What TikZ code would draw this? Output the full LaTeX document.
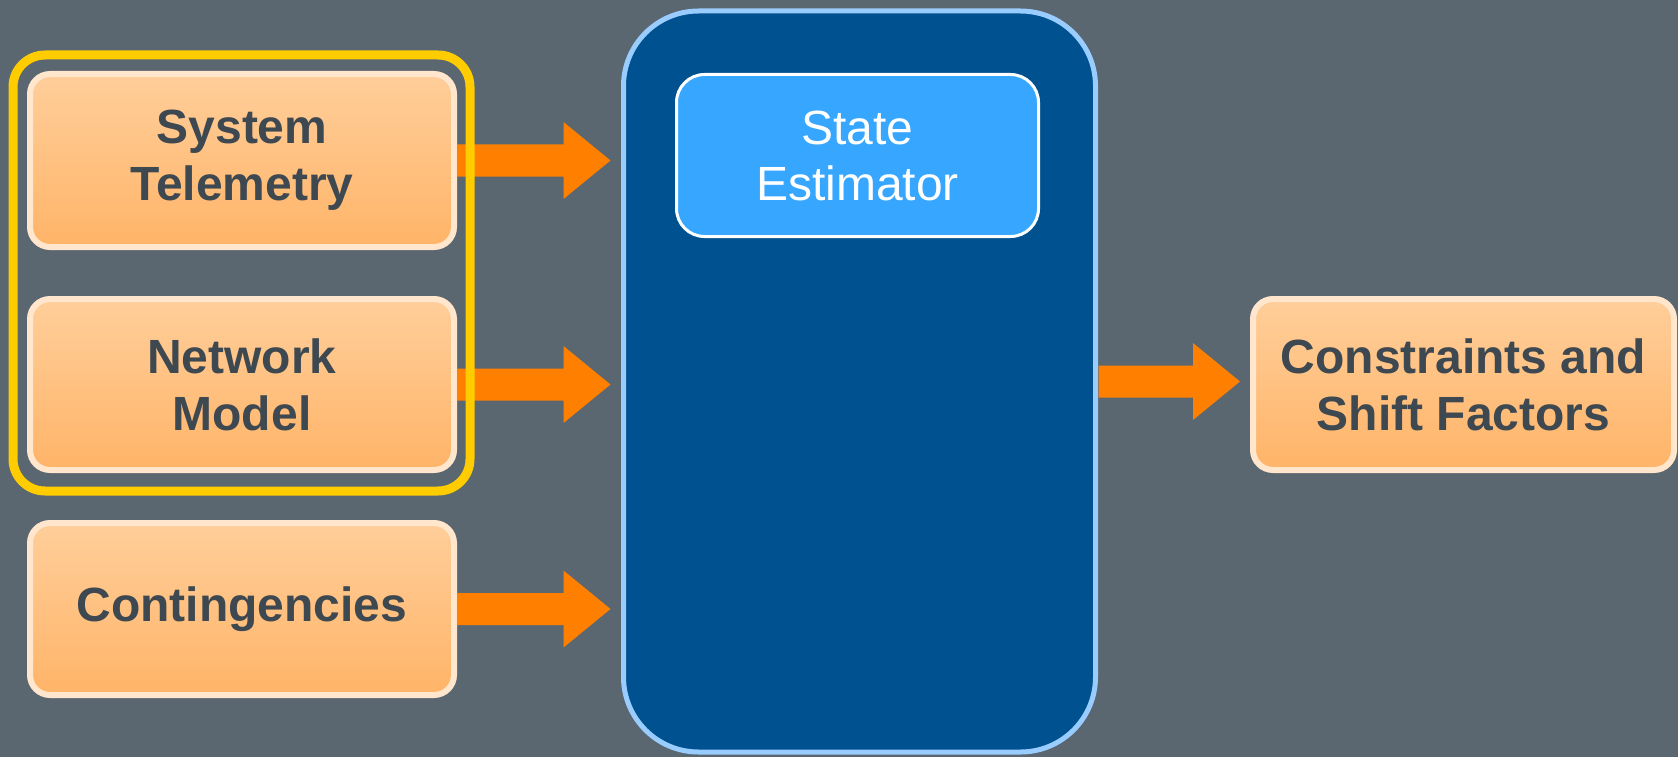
\documentclass[tikz,border=0pt]{standalone}
\usepackage{fontspec}
\setmainfont{Liberation Sans}
\usetikzlibrary{calc}

\definecolor{bgslate}{RGB}{90,102,112}
\definecolor{peachtop}{RGB}{255,206,154}
\definecolor{peachbot}{RGB}{255,180,104}
\definecolor{peachrim}{RGB}{255,230,204}
\definecolor{inktext}{RGB}{62,72,80}
\definecolor{flowor}{RGB}{255,128,0}
\definecolor{goldrim}{RGB}{255,204,0}
\definecolor{navyfill}{RGB}{0,81,144}
\definecolor{skyrim}{RGB}{153,204,255}
\definecolor{azure}{RGB}{54,166,255}

% thick block arrow from the east side of one node to the west side of another
\newcommand\flowarrow[2]{%
  \fill[flow] let \p1=($(#1.east)+(3,0)$), \p2=($(#2.west)+(-13,0)$) in
    (\x1,{\y1+16pt}) -- ({\x2-47pt},{\y1+16pt}) -- ({\x2-47pt},{\y1+38.5pt})
    -- (\x2,\y1) -- ({\x2-47pt},{\y1-38.5pt}) -- ({\x2-47pt},{\y1-16pt})
    -- (\x1,{\y1-16pt}) -- cycle;}

\begin{document}
\begin{tikzpicture}[x=1pt,y=-1pt,
  inbox/.style={draw=peachrim, line width=6pt, rounded corners=20pt,
    top color=peachtop, bottom color=peachbot, outer sep=0pt,
    text=inktext, align=center,
    font=\bfseries\fontsize{48}{57}\selectfont},
  engine/.style={draw=skyrim, fill=navyfill, line width=5pt,
    rounded corners=75pt, outer sep=0pt},
  stage/.style={draw=white, fill=azure, line width=3pt, rounded corners=28pt,
    text=white, align=center, outer sep=0pt,
    font=\fontsize{48}{56}\selectfont},
  groupframe/.style={draw=goldrim, line width=9pt, rounded corners=32pt},
  flow/.style={fill=flowor}]

  % page and backdrop
  \fill[bgslate] (0,0) rectangle (1678,757);
  \useasboundingbox (0,0) rectangle (1678,757);

  % inputs
  \node[inbox, minimum width=424pt, minimum height=173pt] (tele) at (242,160.5) {System\\Telemetry};
  \node[inbox, minimum width=424pt, minimum height=171pt] (netm) at (242,384.5) {Network\\Model};
  \node[inbox, minimum width=424pt, minimum height=172pt] (cont) at (242,609) {Contingencies};

  % central processing block and its first stage
  \node[engine, minimum width=472pt, minimum height=741pt] (core) at (859.5,381.5) {};
  \node[stage, minimum width=362pt, minimum height=162pt] (est) at (857.5,155.5) {State\\Estimator};

  % output
  \node[inbox, minimum width=421pt, minimum height=171pt] (out) at (1463.5,384.5) {Constraints and\\Shift Factors};

  % flows
  \flowarrow{tele}{core}
  \flowarrow{netm}{core}
  \flowarrow{cont}{core}
  \flowarrow{core}{out}

  % highlight around the telemetry and network model inputs
  \node[groupframe, minimum width=457pt, minimum height=436pt] (grp) at (241.5,273) {};
\end{tikzpicture}
\end{document}
